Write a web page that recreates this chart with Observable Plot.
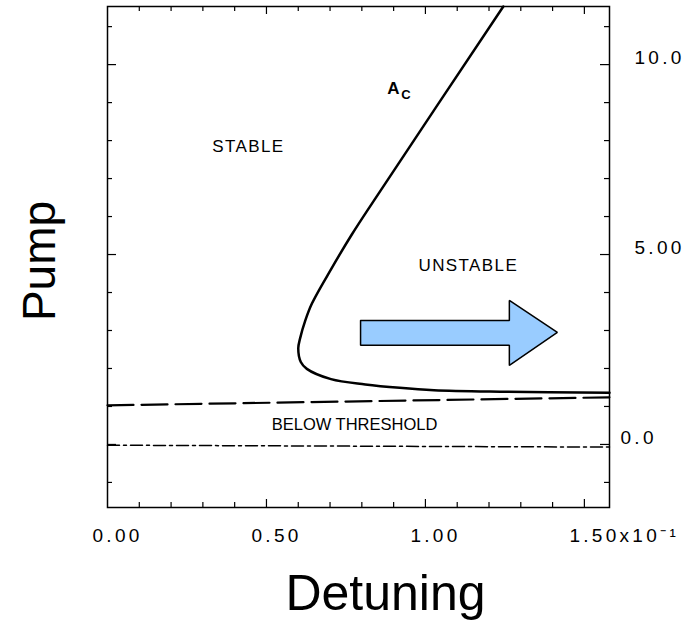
<!DOCTYPE html>
<html><head><meta charset="utf-8">
<script src="https://cdn.jsdelivr.net/npm/d3@7"></script>
<script src="https://cdn.jsdelivr.net/npm/@observablehq/plot@0.6"></script>
<style>
body{margin:0;background:#fff;}
#chart svg{display:block;font-family:"Liberation Sans",Arial,Helvetica,sans-serif;background:#fff;}
g[aria-label$="tick label"] text{letter-spacing:3.3px;}
.spaced text{letter-spacing:1.4px;}
</style></head><body><div id="chart"></div>
<script>
// Critical curve A_c (detuning x, pump y)
const curveX = [1.245, 0.838, 0.768, 0.703, 0.643, 0.622, 0.606, 0.600, 0.608, 0.627, 0.703, 0.811, 0.919, 1.027, 1.243, 1.579];
const curveY = [11.53, 6.42, 5.52, 4.61, 3.71, 3.26, 2.80, 2.53, 2.17, 1.99, 1.72, 1.58, 1.49, 1.43, 1.39, 1.36];
// Threshold line (dashed) and zero line (dash-dot)
const thresholdX = [0, 1.579];
const thresholdY = [1.03, 1.24];
const zeroX = [0, 1.579];
const zeroY = [-0.02, -0.07];
// Arrow polygon
const arrowX = [0.796, 1.264, 1.264, 1.415, 1.264, 1.264, 0.796, 0.796];
const arrowY = [3.26, 3.26, 3.79, 2.95, 2.08, 2.61, 2.61, 3.26];
// Region labels
const regionLabels = ["STABLE", "UNSTABLE"];
const regionX = [0.443, 1.135];
const regionY = [7.84, 4.71];
const belowLabel = ["BELOW THRESHOLD"];
const belowX = [0.777];
const belowY = [0.53];
// Curve label A_c
const curveLabelMain = ["A"]; const curveLabelMainX = [0.899]; const curveLabelMainY = [9.38];
const curveLabelSub = ["C"]; const curveLabelSubX = [0.939]; const curveLabelSubY = [9.2];
// Ticks
const xMinorTicks = [0.1, 0.2, 0.3, 0.4, 0.6, 0.7, 0.8, 0.9, 1.1, 1.2, 1.3, 1.4];
const xMajorTicks = [0.5, 1.0, 1.5];
const xTickValues = [0, 0.5, 1.0, 1.5];
const xTickLabels = ["0.00", "0.50", "1.00", "1.50x10\u207B\u00B9"];
const yMinorTicks = [-1, 1, 2, 3, 4, 6, 7, 8, 9, 11];
const yMajorTicks = [0, 5, 10];
const yTickValuesA = [10, 5];
const yTickLabelsA = ["10.0", "5.00"];
const yTickValuesB = [0];
const yTickLabelsB = ["0.0"];
const xTitle = "Detuning";
const yTitle = "Pump";

const W = 695, H = 624;
const mL = 107, mR = 86, mT = 6, mB = 117;
const iw = W - mL - mR, ih = H - mT - mB;

const curve = curveX.map((x, i) => ({x, y: curveY[i]}));
const thr = thresholdX.map((x, i) => ({x, y: thresholdY[i]}));
const zero = zeroX.map((x, i) => ({x, y: zeroY[i]}));
const arrow = arrowX.map((x, i) => ({x, y: arrowY[i]}));
const fmtX = d => xTickLabels[xTickValues.indexOf(d)];
const fmtYA = d => yTickLabelsA[yTickValuesA.indexOf(d)];
const fmtYB = d => yTickLabelsB[yTickValuesB.indexOf(d)];

const chart = Plot.plot({
  width: W, height: H,
  marginLeft: mL, marginRight: mR, marginTop: mT, marginBottom: mB,
  x: {domain: [0, 1.579], axis: null},
  y: {domain: [-1.66, 11.53], axis: null},
  style: {fontFamily: '"Liberation Sans", Arial, sans-serif', background: "#fff"},
  marks: [
    // inward ticks
    Plot.tickX(xMinorTicks, {x: d => d, insetTop: ih - 5, stroke: "#000", strokeWidth: 1.2}),
    Plot.tickX(xMajorTicks, {x: d => d, insetTop: ih - 8, stroke: "#000", strokeWidth: 1.2}),
    Plot.tickX(xMinorTicks, {x: d => d, insetBottom: ih - 5, stroke: "#000", strokeWidth: 1.2}),
    Plot.tickX(xMajorTicks, {x: d => d, insetBottom: ih - 8, stroke: "#000", strokeWidth: 1.2}),
    Plot.tickY(yMinorTicks, {y: d => d, insetRight: iw - 5, stroke: "#000", strokeWidth: 1.2}),
    Plot.tickY(yMajorTicks, {y: d => d, insetRight: iw - 9, stroke: "#000", strokeWidth: 1.2}),
    Plot.tickY(yMinorTicks, {y: d => d, insetLeft: iw - 5, stroke: "#000", strokeWidth: 1.2}),
    Plot.tickY(yMajorTicks, {y: d => d, insetLeft: iw - 9, stroke: "#000", strokeWidth: 1.2}),
    Plot.frame({stroke: "#000", strokeWidth: 1.5}),
    // tick labels
    Plot.axisX(xTickValues, {anchor: "bottom", label: null, tickSize: 0, tickPadding: 21, tickFormat: fmtX, textAnchor: "start", dx: -15, fontSize: 19, fill: "#000"}),
    Plot.axisY(yTickValuesA, {anchor: "right", label: null, tickSize: 0, tickPadding: 25, tickFormat: fmtYA, dy: -7, fontSize: 19, fill: "#000"}),
    Plot.axisY(yTickValuesB, {anchor: "right", label: null, tickSize: 0, tickPadding: 11, tickFormat: fmtYB, dy: -7, fontSize: 19, fill: "#000"}),
    // lines
    Plot.line(zero, {x: "x", y: "y", stroke: "#000", strokeWidth: 1.5, strokeDasharray: "12,4,3,4"}),
    Plot.line(thr, {x: "x", y: "y", stroke: "#000", strokeWidth: 2.2, strokeDasharray: "26,8"}),
    Plot.line(curve, {x: "x", y: "y", stroke: "#000", strokeWidth: 2.5, curve: "catmull-rom"}),
    // arrow
    Plot.line(arrow, {x: "x", y: "y", fill: "#99ccff", stroke: "#000", strokeWidth: 1.5, strokeLinejoin: "miter"}),
    // labels
    Plot.text(regionLabels, {x: (d, i) => regionX[i], y: (d, i) => regionY[i], text: d => d, fontSize: 17, fill: "#000", className: "spaced"}),
    Plot.text(belowLabel, {x: (d, i) => belowX[i], y: (d, i) => belowY[i], text: d => d, fontSize: 16.5, fill: "#000"}),
    Plot.text(curveLabelMain, {x: (d, i) => curveLabelMainX[i], y: (d, i) => curveLabelMainY[i], text: d => d, fontSize: 17, fontWeight: "bold", fill: "#000"}),
    Plot.text(curveLabelSub, {x: (d, i) => curveLabelSubX[i], y: (d, i) => curveLabelSubY[i], text: d => d, fontSize: 13, fontWeight: "bold", fill: "#000"}),
    // axis titles
    Plot.text([yTitle], {frameAnchor: "left", textAnchor: "middle", lineAnchor: "middle", text: d => d, rotate: -90, dx: -67, dy: 4, fontSize: 46, fill: "#000"}),
    Plot.text([xTitle], {frameAnchor: "bottom", textAnchor: "middle", lineAnchor: "middle", text: d => d, dx: 27, dy: 86, fontSize: 50, fill: "#000"})
  ]
});
document.getElementById("chart").appendChild(chart);
</script>
</body></html>
